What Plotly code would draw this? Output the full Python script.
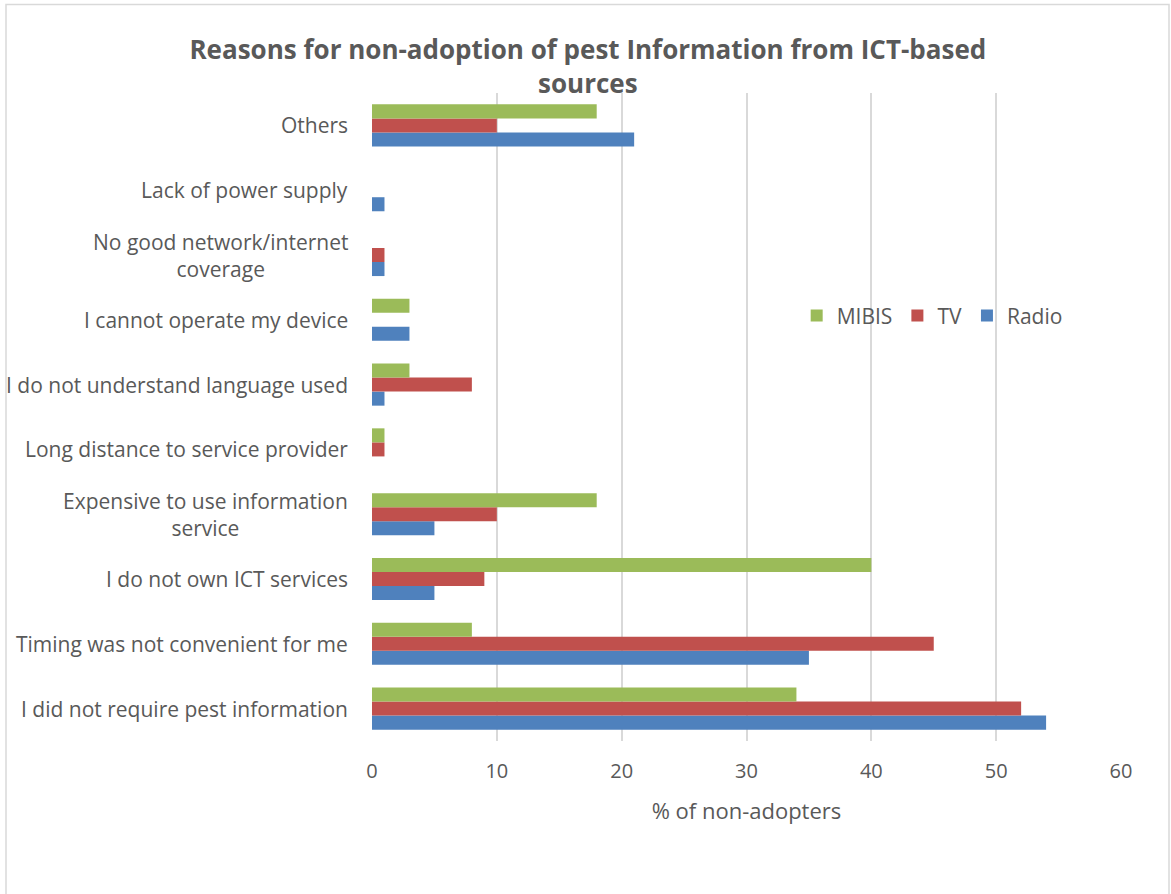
import plotly.graph_objects as go

categories = [
    "I did not require pest information",
    "Timing was not convenient for me",
    "I do not own ICT services",
    "Expensive to use information<br>service",
    "Long distance to service provider",
    "I do not understand language used",
    "I cannot operate my device",
    "No good network/internet<br>coverage",
    "Lack of power supply",
    "Others",
]
radio = [54, 35, 5, 5, 0, 1, 3, 1, 1, 21]
tv = [52, 45, 9, 10, 1, 8, 0, 1, 0, 10]
mibis = [34, 8, 40, 18, 1, 3, 3, 0, 0, 18]

series_names = ["Radio", "TV", "MIBIS"]
series_colors = ["#4F81BD", "#C0504D", "#9BBB59"]
x_ticks = [0, 10, 20, 30, 40, 50, 60]

TXT = "#595959"
FONT = "Open Sans"

fig = go.Figure()
for name, vals, col in zip(series_names, [radio, tv, mibis], series_colors):
    fig.add_trace(go.Bar(
        y=categories, x=vals, name=name, orientation="h",
        marker=dict(color=col, line=dict(width=0)),
    ))

for c in categories:
    fig.add_annotation(
        x=-0.029, xref="paper", y=c, yref="y", text=c,
        xanchor="right", yanchor="middle", align="center", showarrow=False,
        font=dict(family=FONT, size=21, color=TXT),
    )

fig.update_layout(
    width=1171, height=894,
    margin=dict(l=372, r=50, t=93, b=153),
    paper_bgcolor="white", plot_bgcolor="white",
    barmode="group", bargap=0.35, bargroupgap=0,
    title=dict(
        text="<b>Reasons for non-adoption of pest Information from ICT-based<br>sources</b>",
        x=0.502, xanchor="center", y=0.934, yanchor="middle",
        font=dict(family=FONT, size=26, color=TXT),
    ),
    font=dict(family=FONT, size=21, color=TXT),
    legend=dict(
        orientation="h", traceorder="reversed",
        x=0.567, y=0.656, xanchor="left", yanchor="middle",
        font=dict(family=FONT, size=21, color=TXT),
        bgcolor="rgba(0,0,0,0)",
    ),
    xaxis=dict(
        range=[0, 60], tickvals=x_ticks, showgrid=True, gridcolor="#D9D9D9",
        gridwidth=1.5, zeroline=False, showline=False,
        tickfont=dict(family=FONT, size=20, color=TXT),
        title=dict(text="% of non-adopters", font=dict(family=FONT, size=22, color=TXT), standoff=20),
        ticks="", ticklabelstandoff=16,
    ),
    yaxis=dict(
        categoryorder="array", categoryarray=categories, showticklabels=False,
        showgrid=False, zeroline=False, showline=False,
    ),
    shapes=[dict(
        type="rect", xref="paper", yref="paper",
        x0=(6 - 372) / 749, x1=(1169 - 372) / 749,
        y0=-0.3, y1=1 + (93 - 4.5) / 648,
        line=dict(color="#D9D9D9", width=1.5), fillcolor="rgba(0,0,0,0)", layer="below",
    )],
)

fig.write_html("out.html")
